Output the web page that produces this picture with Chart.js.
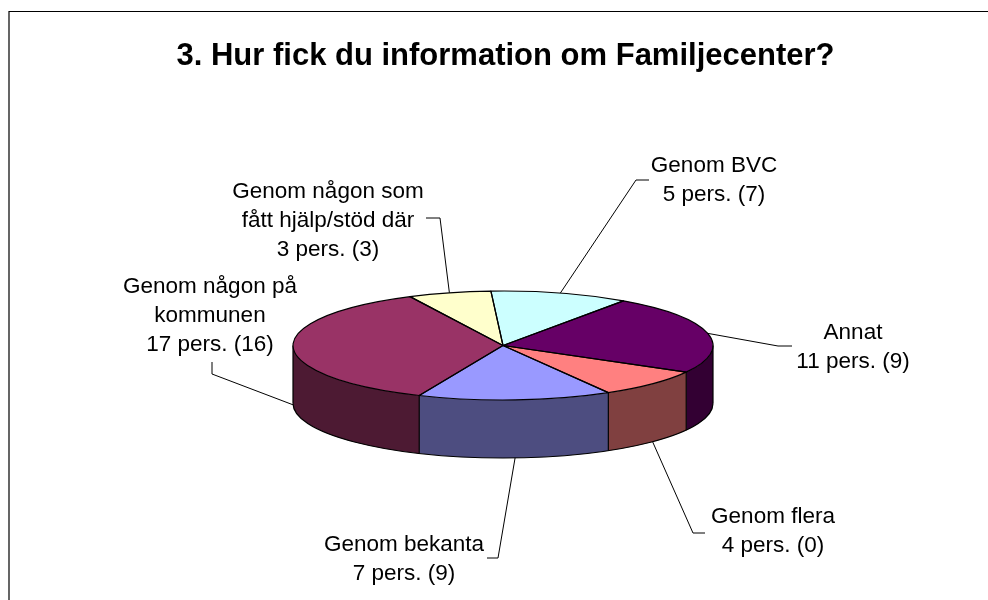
<!DOCTYPE html>
<html>
<head>
<meta charset="utf-8">
<style>html,body{margin:0;padding:0;background:#fff;overflow:hidden}canvas{display:block}</style>
<script src="https://cdn.jsdelivr.net/npm/chart.js@4/dist/chart.umd.min.js"></script>
</head>
<body>
<canvas id="c" width="988" height="600"></canvas>
<script>
const titleText = '3. Hur fick du information om Familjecenter?';
const categories = ['Genom BVC', 'Annat', 'Genom flera', 'Genom bekanta', 'Genom någon på kommunen', 'Genom någon som fått hjälp/stöd där'];
const values = [5, 11, 4, 7, 17, 3];
const topColors = ['#CCFFFF', '#660066', '#FF8080', '#9999FF', '#993366', '#FFFFCC'];
const wallColors = ['#668080', '#330033', '#804040', '#4D4D80', '#4D1A33', '#808066'];
const labelLines = [
  ['Genom BVC', '5 pers. (7)'],
  ['Annat', '11 pers. (9)'],
  ['Genom flera', '4 pers. (0)'],
  ['Genom bekanta', '7 pers. (9)'],
  ['Genom någon på', 'kommunen', '17 pers. (16)'],
  ['Genom någon som', 'fått hjälp/stöd där', '3 pers. (3)']
];
// label placement: centre x, first line middle y
const labelPos = [[714,166],[853,333],[773,517],[404,545],[210,287],[328,192]];
// leader elbows: [elbow, end]
const leaderPos = [
  [[636,180],[649,180]],
  [[778,346],[792,346]],
  [[693,533],[705,533]],
  [[498,558],[487,558]],
  [[212,374],[212,362]],
  [[440,218],[426,218]]
];
const CX = 503, CY = 345.5, RY = 54.5, DEPTH = 58, R = 210;
const LINE_H = 29, LABEL_FONT = '22.5px "Liberation Sans", Arial, sans-serif';

function squash(ctx, arc, dy) {
  ctx.translate(CX, CY + dy);
  ctx.scale(1, RY / R);
  ctx.translate(-arc.x, -arc.y);
}
function pt(angle, dy) {
  return [CX + R * Math.cos(angle), CY + dy + RY * Math.sin(angle)];
}

const pie3d = {
  id: 'pie3d',
  beforeDraw(chart) {
    const ctx = chart.ctx;
    ctx.save();
    ctx.strokeStyle = '#000';
    ctx.lineWidth = 1.2;
    ctx.beginPath();
    ctx.moveTo(9, 600); ctx.lineTo(9, 11.5); ctx.lineTo(988, 11.5);
    ctx.stroke();
    ctx.restore();
  },
  beforeDatasetsDraw(chart) {
    const ctx = chart.ctx;
    const arcs = chart.getDatasetMeta(0).data;
    // side wall of every slice, from the slice's own angles, front half only
    arcs.forEach((arc, i) => {
      const a = Math.max(arc.startAngle, 0), b = Math.min(arc.endAngle, Math.PI);
      if (b <= a) return;
      ctx.save();
      ctx.fillStyle = wallColors[i];
      ctx.beginPath();
      ctx.ellipse(CX, CY, R, RY, 0, a, b);
      ctx.ellipse(CX, CY + DEPTH, R, RY, 0, b, a, true);
      ctx.closePath();
      ctx.fill();
      ctx.restore();
    });
    // wall outlines
    ctx.save();
    ctx.strokeStyle = '#000';
    ctx.lineWidth = 1.2;
    ctx.beginPath();
    ctx.ellipse(CX, CY + DEPTH, R, RY, 0, 0, Math.PI);
    ctx.stroke();
    const edges = [0, Math.PI];
    arcs.forEach(arc => {
      const e = arc.endAngle;
      if (Math.sin(e) > 0) edges.push(e);
    });
    ctx.beginPath();
    edges.forEach(e => {
      const p = pt(e, 0);
      ctx.moveTo(p[0], p[1]);
      ctx.lineTo(p[0], p[1] + DEPTH);
    });
    ctx.stroke();
    ctx.restore();
    // squash the library's own pie drawing
    ctx.save();
    squash(ctx, arcs[0], 0);
  },
  afterDatasetsDraw(chart) {
    const ctx = chart.ctx;
    ctx.restore();
    const arcs = chart.getDatasetMeta(0).data;
    // slice outlines with even line width
    ctx.save();
    ctx.strokeStyle = '#000';
    ctx.lineWidth = 1.2;
    ctx.lineJoin = 'round';
    arcs.forEach(arc => {
      ctx.save();
      squash(ctx, arc, 0);
      ctx.beginPath();
      ctx.moveTo(arc.x, arc.y);
      ctx.arc(arc.x, arc.y, arc.outerRadius, arc.startAngle, arc.endAngle);
      ctx.closePath();
      ctx.restore();
      ctx.stroke();
    });
    ctx.restore();
    // leaders and labels
    ctx.save();
    ctx.strokeStyle = '#000';
    ctx.lineWidth = 1;
    ctx.fillStyle = '#000';
    ctx.font = LABEL_FONT;
    ctx.textAlign = 'center';
    ctx.textBaseline = 'middle';
    arcs.forEach((arc, i) => {
      const mid = (arc.startAngle + arc.endAngle) / 2;
      const front = Math.sin(mid) > 0 && Math.abs(Math.cos(mid)) < 0.99 || Math.abs(Math.sin(mid)) < 0.1 && Math.cos(mid) < 0;
      const s = pt(mid, front ? DEPTH : 0);
      ctx.beginPath();
      ctx.moveTo(s[0], s[1]);
      ctx.lineTo(leaderPos[i][0][0], leaderPos[i][0][1]);
      ctx.lineTo(leaderPos[i][1][0], leaderPos[i][1][1]);
      ctx.stroke();
      labelLines[i].forEach((t, k) => ctx.fillText(t, labelPos[i][0], labelPos[i][1] + k * LINE_H));
    });
    ctx.restore();
  }
};

new Chart(document.getElementById('c'), {
  type: 'pie',
  data: {
    labels: categories,
    datasets: [{
      data: values,
      backgroundColor: topColors,
      borderWidth: 0,
      radius: R,
      rotation: -3.3
    }]
  },
  options: {
    responsive: false,
    animation: false,
    events: [],
    layout: { padding: { left: 23, right: 0, top: 0, bottom: 0 } },
    plugins: {
      legend: { display: false },
      tooltip: { enabled: false },
      title: {
        display: true,
        text: titleText,
        color: '#000',
        font: { family: '"Liberation Sans", Arial, sans-serif', size: 31, weight: 'bold', lineHeight: 1.2 },
        padding: { top: 38, bottom: 10 }
      }
    }
  },
  plugins: [pie3d]
});
</script>
</body>
</html>
